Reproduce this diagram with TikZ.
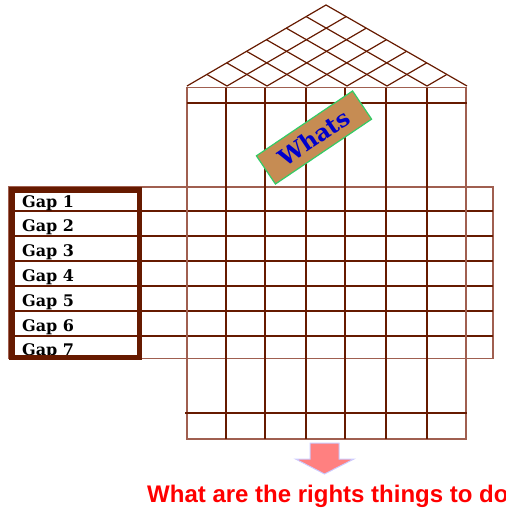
\documentclass[tikz,border=0pt]{standalone}
\usepackage{fontspec}
\setmainfont{DejaVu Serif}
\newfontfamily\arialfont{Liberation Sans}
\usetikzlibrary{calc}
\definecolor{dbrown}{RGB}{102,26,0}
\definecolor{lbrown}{RGB}{160,95,80}
\definecolor{tanfill}{RGB}{198,140,83}
\definecolor{gborder}{RGB}{51,204,102}
\definecolor{wblue}{RGB}{0,0,204}
\definecolor{apink}{RGB}{255,128,128}
\definecolor{alav}{RGB}{204,204,255}
\definecolor{tred}{RGB}{255,0,0}
\tikzset{
  roofline/.style={draw=dbrown, line width=1.2pt},
  gridline/.style={draw=dbrown, line width=1.5pt},
  outline/.style={draw=lbrown, line width=1.5pt},
  gapframe/.style={draw=dbrown, line width=5.5pt},
  gaptext/.style={anchor=base west, inner sep=0pt, font=\bfseries\fontsize{16}{18}\selectfont, text=black},
  whatsbox/.style={fill=tanfill, draw=gborder, line width=1.2pt, minimum width=116pt, minimum height=34pt, inner sep=0pt, rotate=34,
    font=\bfseries\fontsize{23}{26}\selectfont, text=wblue},
  bigarrow/.style={fill=apink, draw=alav, line width=1pt},
  bottomtext/.style={anchor=base west, inner sep=0pt, font=\arialfont\bfseries\fontsize{24}{28}\selectfont, text=tred}
}
\begin{document}
\begin{tikzpicture}[x=1pt,y=-1pt]
\useasboundingbox (0,0) rectangle (506,512);
% roof
\coordinate (BL) at (187,86);
\coordinate (AP) at (326,5);
\coordinate (BR) at (467,86);
\draw[roofline] (BL) -- (AP) -- (BR);
\foreach \k in {1,...,6}{
  \draw[roofline] ($(BL)!\k/7!(AP)$) -- ($(BL)!\k/7!(BR)$);
  \draw[roofline] ($(BR)!\k/7!(AP)$) -- ($(BR)!\k/7!(BL)$);
}
% wide table
\draw[outline] (9,187) rectangle (493,358.5);
\foreach \y in {211,236,261,286,311,336}{
  \draw[gridline] (9,\y) -- (493,\y);
}
% body
\draw[outline] (187,87.5) rectangle (466,439);
\foreach \x in {226,265,306,345,386,427}{
  \draw[gridline] (\x,87.5) -- (\x,439);
}
\draw[gridline] (187,103) -- (467,103);
\draw[gridline] (185,413) -- (467,413);
% gap texts
\begin{scope}
  \clip (14,192) rectangle (136.5,354.5);
  \foreach \k in {1,...,7}{
    \node[gaptext] (gap\k) at (22,{207+24.8*(\k-1)}) {Gap \k};
  }
\end{scope}
\draw[gapframe] (11.75,189.75) rectangle (139.25,357.25);
% whats
\node[whatsbox] (whats) at (314,137.5) {Whats};
% arrow
\draw[bigarrow] (310,443) -- (339,443) -- (339,459) -- (354,459) -- (324.5,474) -- (295.5,459) -- (310,459) -- cycle;
\node[bottomtext] (question) at (147,502.7) {What are the rights things to do};
\end{tikzpicture}
\end{document}
